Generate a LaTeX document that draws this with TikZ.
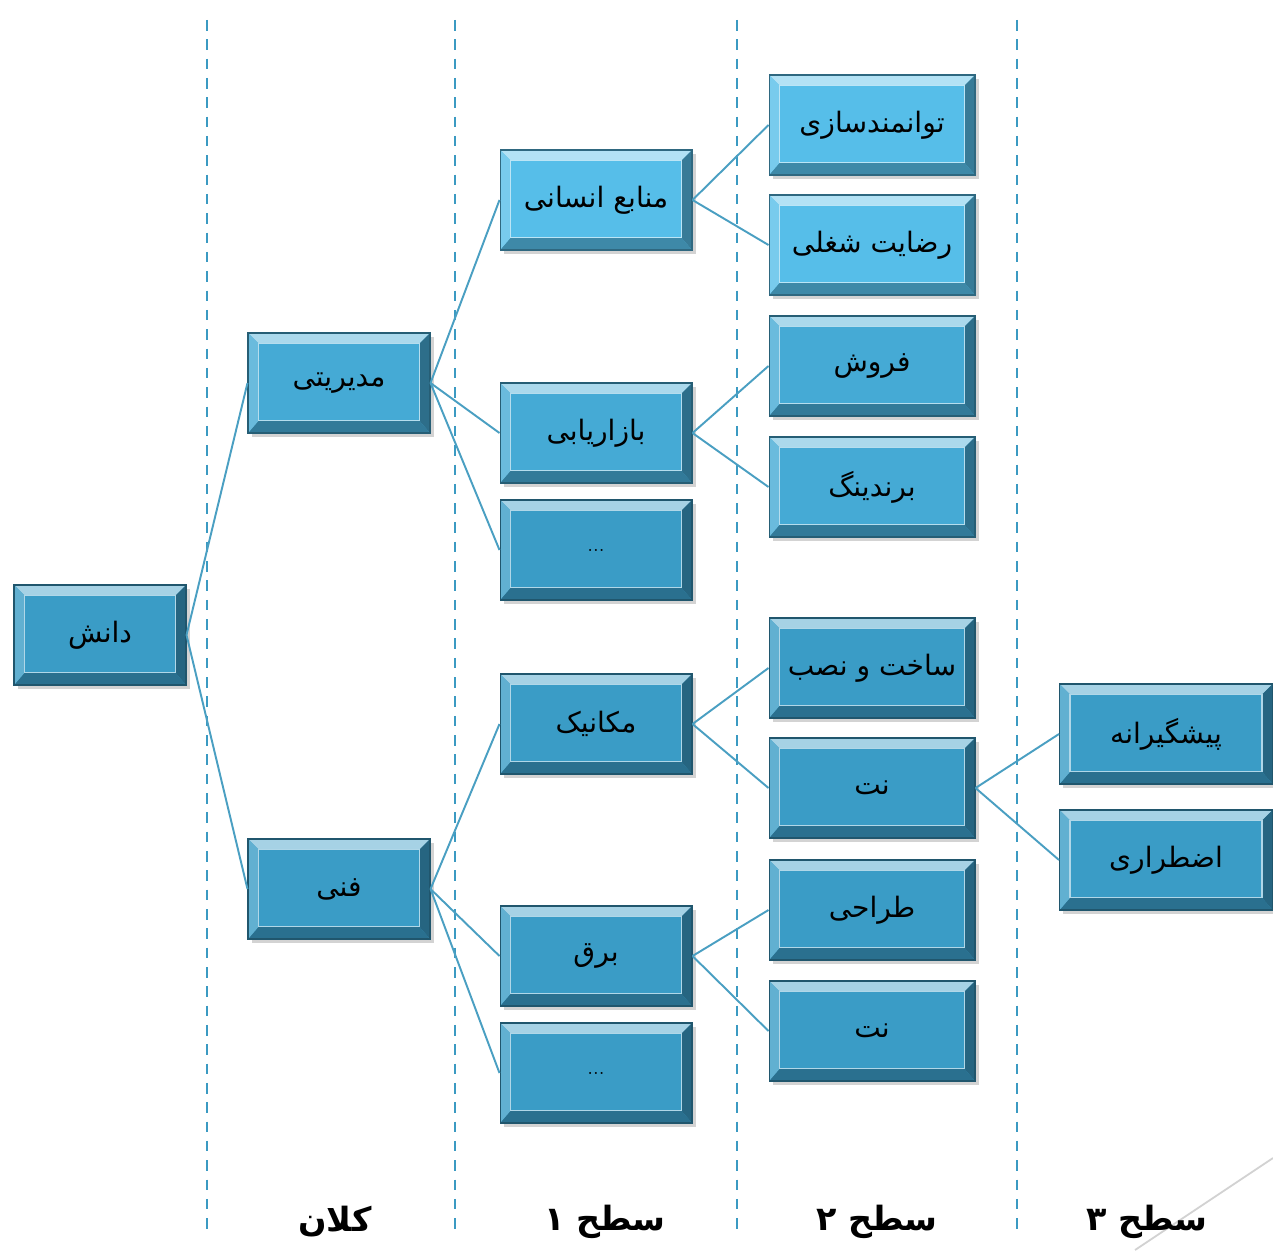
\documentclass[tikz,border=0pt]{standalone}
\usepackage{fontspec}
\newfontfamily\arabicfont[Script=Arabic]{DejaVu Sans}
\TeXXeTstate=1
\usetikzlibrary{shadows}
\definecolor{boxlight}{HTML}{56BEE9}
\definecolor{boxmid}{HTML}{45AAD5}
\definecolor{boxdark}{HTML}{3A9CC6}
\definecolor{linkblue}{HTML}{4A9FC2}
\definecolor{sepblue}{HTML}{3B9AC2}
\newcommand{\fa}[1]{\beginR#1\endR}
\tikzset{
    bevelbox/.style={rectangle, fill=#1, draw=#1!55!black, line width=0.6pt,
        minimum height=2cm, inner sep=2pt,
        font=\arabicfont\fontsize{16}{19}\selectfont,
        drop shadow={opacity=0.35, shadow xshift=2pt, shadow yshift=-2pt},
        path picture={
            \path (path picture bounding box.north west) coordinate (a1)
                  (path picture bounding box.north east) coordinate (a2)
                  (path picture bounding box.south east) coordinate (a3)
                  (path picture bounding box.south west) coordinate (a4);
            \path ([shift={(6pt,-6pt)}]a1) coordinate (b1)
                  ([shift={(-6pt,-6pt)}]a2) coordinate (b2)
                  ([shift={(-6pt,7pt)}]a3) coordinate (b3)
                  ([shift={(6pt,7pt)}]a4) coordinate (b4);
            \fill[#1!45!white] (a1) -- (a2) -- (b2) -- (b1) -- cycle;
            \fill[#1!65!black] (a2) -- (a3) -- (b3) -- (b2) -- cycle;
            \fill[#1!72!black] (a3) -- (a4) -- (b4) -- (b3) -- cycle;
            \fill[#1!80!white] (a4) -- (a1) -- (b1) -- (b4) -- cycle;
            \draw[#1!40!white, line width=0.8pt] (b1) rectangle (b3);
        }},
    col0/.style={minimum width=3.44cm},
    col1/.style={minimum width=3.64cm},
    col2/.style={minimum width=3.84cm},
    col3/.style={minimum width=4.12cm},
    col4/.style={minimum width=4.26cm},
    dots/.style={font=\fontsize{12}{14}\selectfont},
    link/.style={draw=linkblue, line width=1.1pt},
    sep/.style={draw=sepblue, line width=1pt, dash pattern=on 6pt off 5pt},
    level/.style={font=\arabicfont\bfseries\fontsize{19}{23}\selectfont}
}
\begin{document}
\begin{tikzpicture}[x=0.02cm, y=-0.02cm]
    \useasboundingbox (0,0) rectangle (1273,1250);
    % separators
    \foreach \sx in {207, 455, 737, 1017}
        \draw[sep] (\sx,20) -- (\sx,1232);
    \draw[gray!35, line width=1pt] (1273,1158) -- (1135,1250);
    % boxes
    \node[bevelbox=boxdark, col0] (danesh) at (100,635) {\fa{دانش}};
    \node[bevelbox=boxmid, col1] (modir) at (339,383) {\fa{مدیریتی}};
    \node[bevelbox=boxdark, col1] (fanni) at (339,889) {\fa{فنی}};
    \node[bevelbox=boxlight, col2] (manabe) at (596,200) {\fa{منابع انسانی}};
    \node[bevelbox=boxmid, col2] (bazar) at (596,433) {\fa{بازاریابی}};
    \node[bevelbox=boxdark, col2, dots] (etc1) at (596,550) {...};
    \node[bevelbox=boxdark, col2] (mekanik) at (596,724) {\fa{مکانیک}};
    \node[bevelbox=boxdark, col2] (bargh) at (596,956) {\fa{برق}};
    \node[bevelbox=boxdark, col2, dots] (etc2) at (596,1073) {...};
    \node[bevelbox=boxlight, col3] (tavan) at (872,125) {\fa{توانمندسازی}};
    \node[bevelbox=boxlight, col3] (rezayat) at (872,245) {\fa{رضایت شغلی}};
    \node[bevelbox=boxmid, col3] (forush) at (872,366) {\fa{فروش}};
    \node[bevelbox=boxmid, col3] (brand) at (872,487) {\fa{برندینگ}};
    \node[bevelbox=boxdark, col3] (sakht) at (872,668) {\fa{ساخت و نصب}};
    \node[bevelbox=boxdark, col3] (net1) at (872,788) {\fa{نت}};
    \node[bevelbox=boxdark, col3] (tarahi) at (872,910) {\fa{طراحی}};
    \node[bevelbox=boxdark, col3] (net2) at (872,1031) {\fa{نت}};
    \node[bevelbox=boxdark, col4] (pish) at (1166,734) {\fa{پیشگیرانه}};
    \node[bevelbox=boxdark, col4] (ezt) at (1166,860) {\fa{اضطراری}};
    % links
    \path (danesh.east) edge[link] (modir.west);
    \path (danesh.east) edge[link] (fanni.west);
    \path (modir.east) edge[link] (manabe.west);
    \path (modir.east) edge[link] (bazar.west);
    \path (modir.east) edge[link] (etc1.west);
    \path (fanni.east) edge[link] (mekanik.west);
    \path (fanni.east) edge[link] (bargh.west);
    \path (fanni.east) edge[link] (etc2.west);
    \path (manabe.east) edge[link] (tavan.west);
    \path (manabe.east) edge[link] (rezayat.west);
    \path (bazar.east) edge[link] (forush.west);
    \path (bazar.east) edge[link] (brand.west);
    \path (mekanik.east) edge[link] (sakht.west);
    \path (mekanik.east) edge[link] (net1.west);
    \path (bargh.east) edge[link] (tarahi.west);
    \path (bargh.east) edge[link] (net2.west);
    \path (net1.east) edge[link] (pish.west);
    \path (net1.east) edge[link] (ezt.west);
    % levels
    \node[level] (kalan) at (335,1222) {\fa{کلان}};
    \node[level] (sath1) at (605,1222) {\fa{سطح ۱}};
    \node[level] (sath2) at (877,1222) {\fa{سطح ۲}};
    \node[level] (sath3) at (1147,1222) {\fa{سطح ۳}};
\end{tikzpicture}
\end{document}
